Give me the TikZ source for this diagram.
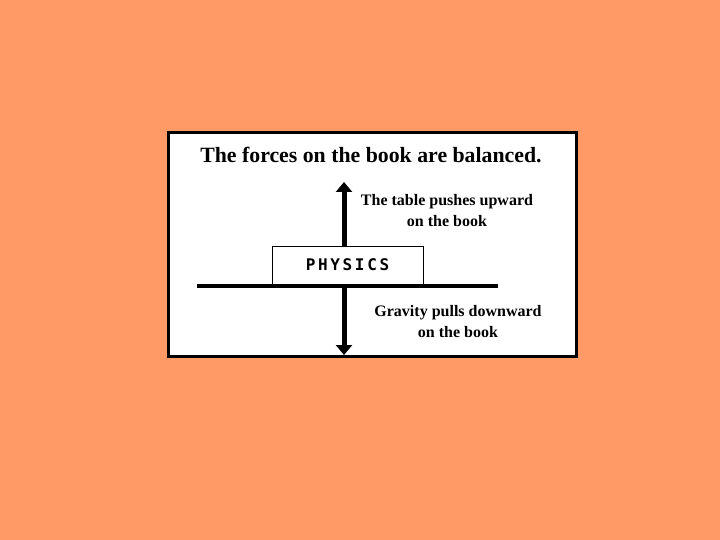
\documentclass[tikz,border=0pt]{standalone}
\usepackage{fontspec}
\setmainfont{Liberation Serif}
\newfontfamily\bookfont{DejaVu Sans Mono}
\usetikzlibrary{arrows.meta}
\definecolor{bg}{HTML}{FF9966}
\tikzset{
  lbl/.style={font=\bfseries\fontsize{16}{17}\selectfont, align=center, inner sep=0pt},
  force/.style={line width=5pt, -{Triangle[width=16pt,length=10pt]}}
}
\begin{document}
\begin{tikzpicture}[x=1pt,y=-1pt]
\useasboundingbox (0,0) rectangle (720,540);
\fill[bg] (0,0) rectangle (720,540);
\draw[line width=3pt, fill=white] (168.5,132.5) rectangle (576.5,356.5);
\node[inner sep=0pt, font=\bfseries\fontsize{21.8}{24}\selectfont] (title) at (371,155) {The forces on the book are balanced.};
\node[draw, line width=1pt, minimum width=151pt, minimum height=38pt, inner sep=0pt, font=\bookfont\bfseries\fontsize{16}{20}\selectfont] (book) at (347.5,265) {P\,H\,Y\,S\,I\,C\,S};
\coordinate (tl) at (197,286);
\coordinate (tr) at (498,286);
\draw[line width=4pt] (tl) -- (tr);
\coordinate (c) at (344,286);
\coordinate (up) at (344,182);
\coordinate (down) at (344,355);
\coordinate (btop) at (344,246);
\draw[force] (btop) -- (up);
\draw[force] (c) -- (down);
\node[lbl] (push) at (447,211) {The table pushes upward\\[4pt]on the book};
\node[lbl] (grav) at (458,322) {Gravity pulls downward\\[4pt]on the book};
\end{tikzpicture}
\end{document}
